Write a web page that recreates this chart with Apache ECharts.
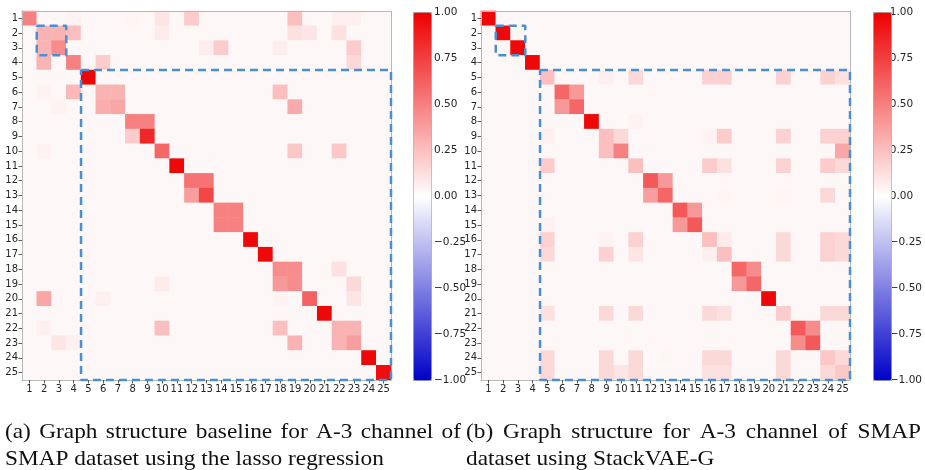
<!DOCTYPE html>
<html><head><meta charset="utf-8">
<script src="https://cdn.jsdelivr.net/npm/echarts@6/dist/echarts.min.js"></script>
<style>html,body{margin:0;padding:0;background:#fff}#c{width:925px;height:470px}</style>
</head><body><div id="c"></div>
<script>
// Channel labels (tick labels of both heatmap axes)
const channels = ['1','2','3','4','5','6','7','8','9','10','11','12','13','14','15','16','17','18','19','20','21','22','23','24','25'];
// Near-zero value shown by all unlisted cells
const baseValue = 0.03;
// [row, col, value] — (a) lasso regression baseline
const leftCells = [
  [1,1,0.5],[1,4,0.05],[1,8,0.04],[1,10,0.1],[1,12,0.2],[1,19,0.25],[1,22,0.06],[1,23,0.06],
  [2,2,0.3],[2,3,0.3],[2,4,0.25],[2,10,0.08],[2,19,0.12],[2,20,0.1],[2,22,0.12],
  [3,2,0.3],[3,3,0.45],[3,13,0.07],[3,14,0.2],[3,18,0.07],[3,23,0.2],
  [4,2,0.3],[4,4,0.5],[4,6,0.2],[4,23,0.15],
  [5,5,0.98],
  [6,2,0.05],[6,4,0.28],[6,6,0.3],[6,7,0.3],[6,18,0.25],
  [7,3,0.05],[7,6,0.32],[7,7,0.35],[7,19,0.33],
  [8,8,0.5],[8,9,0.5],
  [9,8,0.2],[9,9,0.85],
  [10,2,0.05],[10,10,0.6],[10,19,0.22],[10,22,0.22],
  [11,11,0.97],
  [12,12,0.55],[12,13,0.55],
  [13,12,0.38],[13,13,0.72],
  [14,14,0.5],[14,15,0.5],
  [15,14,0.5],[15,15,0.5],
  [16,16,0.97],
  [17,17,0.97],
  [18,18,0.45],[18,19,0.45],[18,22,0.12],
  [19,10,0.08],[19,18,0.4],[19,19,0.45],[19,23,0.15],
  [20,2,0.35],[20,6,0.06],[20,18,0.05],[20,20,0.62],[20,23,0.1],
  [21,21,0.97],
  [22,2,0.06],[22,10,0.25],[22,18,0.25],[22,22,0.3],[22,23,0.3],
  [23,3,0.1],[23,4,0.06],[23,19,0.3],[23,22,0.3],[23,23,0.38],
  [24,24,0.97],
  [25,25,0.95]
];
// [row, col, value] — (b) StackVAE-G
const rightCells = [
  [1,1,0.97],[2,2,0.97],[3,3,0.97],[4,4,0.97],
  [5,5,0.25],[5,9,0.06],[5,11,0.15],[5,16,0.18],[5,17,0.18],[5,21,0.18],[5,24,0.18],[5,25,0.12],
  [6,6,0.6],[6,7,0.4],
  [7,6,0.4],[7,7,0.6],
  [8,8,0.97],[8,11,0.05],
  [9,5,0.06],[9,9,0.25],[9,10,0.15],[9,16,0.05],[9,17,0.2],[9,21,0.18],[9,24,0.18],[9,25,0.18],
  [10,9,0.25],[10,10,0.5],[10,25,0.35],
  [11,5,0.2],[11,11,0.25],[11,16,0.2],[11,17,0.12],[11,21,0.18],[11,24,0.2],[11,25,0.15],
  [12,12,0.65],[12,13,0.4],
  [13,12,0.38],[13,13,0.6],[13,17,0.04],[13,21,0.04],[13,24,0.15],
  [14,14,0.65],[14,15,0.4],
  [15,5,0.05],[15,14,0.4],[15,15,0.65],
  [16,5,0.18],[16,9,0.05],[16,11,0.18],[16,16,0.25],[16,17,0.08],[16,21,0.15],[16,24,0.18],[16,25,0.15],
  [17,5,0.15],[17,9,0.18],[17,11,0.1],[17,16,0.06],[17,17,0.25],[17,21,0.15],[17,24,0.18],[17,25,0.15],
  [18,18,0.6],[18,19,0.45],
  [19,18,0.4],[19,19,0.6],
  [20,20,0.97],
  [21,5,0.12],[21,9,0.15],[21,11,0.15],[21,16,0.15],[21,17,0.12],[21,21,0.2],[21,24,0.15],[21,25,0.15],
  [22,22,0.65],[22,23,0.45],
  [23,22,0.45],[23,23,0.65],
  [24,5,0.15],[24,9,0.15],[24,11,0.15],[24,13,0.04],[24,16,0.15],[24,17,0.15],[24,21,0.15],[24,24,0.22],[24,25,0.15],
  [25,5,0.15],[25,9,0.15],[25,10,0.1],[25,11,0.15],[25,16,0.12],[25,17,0.12],[25,21,0.15],[25,24,0.15],[25,25,0.22]
];
// Dashed group boxes: [first channel, last channel]
const leftBoxes = [[2,3],[5,25]];
const rightBoxes = [[2,3],[5,25]];
// Colour scale range
const scaleMin = -1, scaleMax = 1, scaleStep = 0.25;
// Captions
const captionA = ['(a) Graph structure baseline for A-3 channel of', 'SMAP dataset using the lasso regression'];
const captionB = ['(b) Graph structure for A-3 channel of SMAP', 'dataset using StackVAE-G'];

function dense(cells){
  const n = channels.length, m = {};
  cells.forEach(c => { m[c[0] + '_' + c[1]] = c[2]; });
  const out = [];
  for (let r = 1; r <= n; r++) for (let c = 1; c <= n; c++) {
    const k = r + '_' + c;
    out.push([c - 1, r - 1, (k in m) ? m[k] : baseValue]);
  }
  return out;
}
function boxPath(b){
  const a = b[0] - 0.5, z = b[1] + 0.5;
  return [[a,a],[z,a],[z,z],[a,z],[a,a]];
}

const chart = echarts.init(document.getElementById('c'), null, {renderer:'canvas'});
const S = 369, T = 11, L1 = 22, L2 = 481;
const tickColor = '#333';
const labelFont = {fontSize: 10, color: '#262626', fontFamily: 'DejaVu Sans'};
function catX(gi){ return {type:'category', gridIndex:gi, data:channels, position:'bottom', z:5,
  axisLine:{show:true, lineStyle:{color:'#b8b8b8', width:1}},
  axisTick:{show:true, alignWithLabel:true, interval:0, length:3.5, lineStyle:{color:tickColor, width:0.8}},
  axisLabel:Object.assign({interval:0, margin:4}, labelFont), splitLine:{show:false}}; }
function catY(gi){ return {type:'category', gridIndex:gi, data:channels, inverse:true, position:'left', z:5,
  axisLine:{show:true, lineStyle:{color:'#b8b8b8', width:1}},
  axisTick:{show:true, alignWithLabel:true, interval:0, length:3.5, lineStyle:{color:tickColor, width:0.8}},
  axisLabel:Object.assign({interval:0, margin:4}, labelFont), splitLine:{show:false}}; }
function valX(gi){ return {type:'value', gridIndex:gi, min:0.5, max:channels.length + 0.5, position:'top', z:5,
  axisLine:{show:true, onZero:false, lineStyle:{color:'#b8b8b8', width:1}}, axisTick:{show:false}, axisLabel:{show:false}, splitLine:{show:false}}; }
function valY(gi){ return {type:'value', gridIndex:gi, min:0.5, max:channels.length + 0.5, inverse:true, position:'right', z:5,
  axisLine:{show:true, onZero:false, lineStyle:{color:'#b8b8b8', width:1}}, axisTick:{show:false}, axisLabel:{show:false}, splitLine:{show:false}}; }
function cbX(gi){ return {type:'value', gridIndex:gi, show:false, min:0, max:1}; }
function cbY(gi){ return {type:'value', gridIndex:gi, min:scaleMin, max:scaleMax, interval:scaleStep, position:'right',
  axisLine:{show:false}, splitLine:{show:false},
  axisTick:{show:true, length:3.5, lineStyle:{color:tickColor, width:0.8}},
  axisLabel:{margin:3, fontSize:10.5, color:'#262626', fontFamily:'DejaVu Sans',
    formatter: v => (v < 0 ? '\u2212' : '') + Math.abs(v).toFixed(2)}}; }

const boxLine = (data, xi, yi) => ({type:'line', xAxisIndex:xi, yAxisIndex:yi, data:data, symbol:'none', clip:false, z:10,
  silent:true, lineStyle:{color:'#4a8fd2', width:2.5, type:[8,5]}});

const colors = ['#0000c8', '#ffffff', '#ee0000'];
const series = [
  {type:'heatmap', xAxisIndex:0, yAxisIndex:0, data:dense(leftCells), itemStyle:{borderWidth:0}, progressive:0},
  {type:'heatmap', xAxisIndex:2, yAxisIndex:2, data:dense(rightCells), itemStyle:{borderWidth:0}, progressive:0}
];
leftBoxes.forEach(b => series.push(boxLine(boxPath(b), 1, 1)));
rightBoxes.forEach(b => series.push(boxLine(boxPath(b), 3, 3)));

// Caption layout (LaTeX-like: first line justified to the subfigure width, last line natural)
const capFont = '22px "Liberation Serif", "Times New Roman", serif';
const capScaleX = 1.06;
const measureCtx = document.createElement('canvas').getContext('2d');
measureCtx.font = capFont;
function word(text, x, y){
  return {type:'text', x:x, y:y, scaleX:capScaleX, style:{x:0, y:0, text:text, font:capFont, fill:'#111', verticalAlign:'middle'}};
}
function capLine(text, x0, y, justifyWidth){
  if (!justifyWidth) return [word(text, x0, y)];
  const words = text.split(' ');
  const widths = words.map(w => measureCtx.measureText(w).width * capScaleX);
  const total = widths.reduce((a,b) => a + b, 0);
  const gap = (justifyWidth - total) / (words.length - 1);
  const out = []; let x = x0;
  words.forEach((w, i) => { out.push(word(w, x, y)); x += widths[i] + gap; });
  return out;
}
const graphics = [].concat(
  capLine(captionA[0], 5, 432, 456), capLine(captionA[1], 5, 459),
  capLine(captionB[0], 466, 432, 455), capLine(captionB[1], 466, 459)
);

chart.setOption({
  animation:false,
  backgroundColor:'#fff',
  grid:[
    {left:L1, top:T, width:S, height:S},
    {left:L2, top:T, width:S, height:S},
    {left:413, top:12, width:18, height:368},
    {left:873, top:12, width:18, height:368}
  ],
  xAxis:[catX(0), valX(0), catX(1), valX(1), cbX(2), cbX(3)],
  yAxis:[catY(0), valY(0), catY(1), valY(1), cbY(2), cbY(3)],
  visualMap:[
    {type:'continuous', min:scaleMin, max:scaleMax, seriesIndex:0, calculable:false, left:413, top:12, itemWidth:18, itemHeight:368,
     padding:0, borderColor:'#aaa', borderWidth:1, inRange:{color:colors}, hoverLink:false},
    {type:'continuous', min:scaleMin, max:scaleMax, seriesIndex:1, calculable:false, left:873, top:12, itemWidth:18, itemHeight:368,
     padding:0, borderColor:'#aaa', borderWidth:1, inRange:{color:colors}, hoverLink:false}
  ],
  series:series,
  graphic:graphics
});
</script></body></html>
